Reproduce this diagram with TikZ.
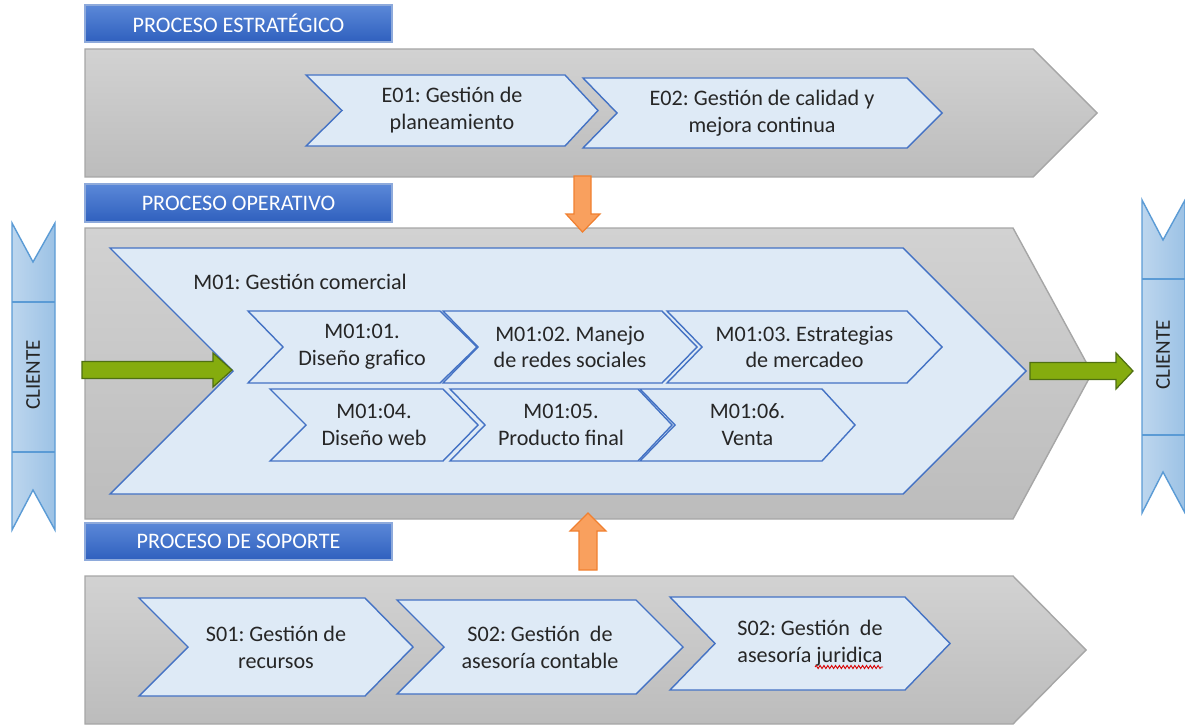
\documentclass[tikz,border=0pt]{standalone}
\usepackage{fontspec}
\setmainfont{Carlito}
\usetikzlibrary{decorations.pathmorphing}
\frenchspacing
\definecolor{txt}{HTML}{262626}
\definecolor{hdrtop}{HTML}{5B88D8}
\definecolor{hdrbot}{HTML}{2F60BE}
\definecolor{hdrline}{HTML}{8EAADB}
\definecolor{bandtop}{HTML}{D2D2D2}
\definecolor{bandbot}{HTML}{BCBCBC}
\definecolor{bandline}{HTML}{A6A6A6}
\definecolor{chfill}{HTML}{DEEAF6}
\definecolor{chline}{HTML}{4472C4}
\definecolor{clleft}{HTML}{BDD6EE}
\definecolor{clright}{HTML}{9CC2E5}
\definecolor{clline}{HTML}{5B9BD5}
\definecolor{gfill}{HTML}{85AC0E}
\definecolor{gline}{HTML}{4F6F12}
\definecolor{ofill}{HTML}{F9A05E}
\definecolor{oline}{HTML}{F08030}
\tikzset{
  band/.style={top color=bandtop, bottom color=bandbot, draw=bandline, line width=0.8pt},
  hdrbox/.style={top color=hdrtop, bottom color=hdrbot, draw=hdrline, line width=0.6pt},
  chevbox/.style={fill=chfill, draw=chline, line width=0.8pt},
  clbar/.style={left color=clleft, right color=clright, draw=clline, line width=0.8pt},
  garrow/.style={fill=gfill, draw=gline, line width=0.7pt},
  oarrow/.style={fill=ofill, draw=oline, line width=0.7pt},
  lbl/.style={text=txt, align=center, inner sep=0pt, font=\fontsize{12.6}{15.3}\selectfont},
  hdrlbl/.style={text=white, inner sep=0pt, font=\fontsize{12.6}{15}\selectfont},
  cllbl/.style={text=txt, inner sep=0pt, rotate=90, font=\fontsize{12}{14}\selectfont},
}
% #1 style, #2 left x, #3 top-right x, #4 tip x, #5 top y, #6 bottom y, #7 notch x
\newcommand{\chevshape}[7]{%
  \path[#1] (#2,#5) -- (#3,#5) -- (#4,{(#5+#6)/2}) -- (#3,#6) -- (#2,#6) -- (#7,{(#5+#6)/2}) -- cycle;}
\begin{document}
\begin{tikzpicture}[x=0.02cm,y=-0.02cm]
\useasboundingbox (0,0) rectangle (1185,726);
% ---------- bands ----------
\path[band] (85,49) -- (1033,49) -- (1097,113) -- (1033,177) -- (85,177) -- cycle;
\path[band] (85,228) -- (1013,228) -- (1092,373) -- (1013,519) -- (85,519) -- cycle;
\path[band] (85,576) -- (1013,576) -- (1086,650) -- (1013,724) -- (85,724) -- cycle;
% ---------- headers ----------
\path[hdrbox] (85,5) rectangle (392,42);
\node[hdrlbl] (h1) at (238.5,23.5) {PROCESO ESTRATÉGICO};
\path[hdrbox] (85,184) rectangle (392,222);
\node[hdrlbl] (h2) at (238.5,203) {PROCESO OPERATIVO};
\path[hdrbox] (85,523) rectangle (392,560);
\node[hdrlbl] (h3) at (238.5,541.5) {PROCESO DE SOPORTE};
% ---------- strategic ----------
\chevshape{chevbox}{306}{565}{598}{75}{146}{342}
\node[lbl] (e01) at (452,110.5) {E01: Gestión de\\planeamiento};
\chevshape{chevbox}{583}{907}{942}{78}{148}{617}
\node[lbl] (e02) at (762,113) {E02: Gestión de calidad y\\mejora continua};
% ---------- operative ----------
\chevshape{chevbox}{110}{903}{1026}{248}{494}{233}
\node[lbl, anchor=west] (m01) at (193,282) {M01: Gestión comercial};
\chevshape{chevbox}{248}{440}{477}{311}{383}{283}
\node[lbl] (m0101) at (362,347) {M01:01.\\Diseño grafico};
\chevshape{chevbox}{443}{662}{697}{311}{383}{478}
\node[lbl] (m0102) at (570,347) {M01:02. Manejo\\de redes sociales};
\chevshape{chevbox}{667}{907}{942}{311}{383}{702}
\node[lbl] (m0103) at (804.5,347) {M01:03. Estrategias\\de mercadeo};
\chevshape{chevbox}{270}{443}{478}{389}{461}{306}
\node[lbl] (m0104) at (374,425) {M01:04.\\Diseño web};
\chevshape{chevbox}{450}{638}{672}{389}{461}{485}
\node[lbl] (m0105) at (561,425) {M01:05.\\Producto final};
\chevshape{chevbox}{640}{822}{855}{389}{461}{675}
\node[lbl] (m0106) at (747.5,425) {M01:06.\\Venta};
% ---------- support ----------
\chevshape{chevbox}{139}{365}{413}{598}{696}{188}
\node[lbl] (s01) at (276,647) {S01: Gestión de\\recursos};
\chevshape{chevbox}{397}{636}{683}{600}{694}{444}
\node[lbl] (s02a) at (540,647) {S02: Gestión\ \ de\\asesoría contable};
\chevshape{chevbox}{670}{905}{950}{597}{690}{715}
\node[lbl] (s02b) at (810,643.5) {S02: Gestión\ \ de\\asesoría juridica};
\draw[red!85!black, line width=0.5pt, decorate, decoration={snake, amplitude=0.9pt, segment length=2.2pt}] (815,667) -- (883,667);
% ---------- clients ----------
\path[clbar] (12,223) -- (33,262) -- (55,223) -- (55,530) -- (33,490) -- (12,530) -- cycle;
\draw[clline, line width=0.8pt] (12,302) -- (55,302) (12,452) -- (55,452);
\node[cllbl] (cl1) at (33,375) {CLIENTE};
\path[clbar] (1142,200) -- (1163,240) -- (1185,200) -- (1185,513) -- (1163,472) -- (1142,513) -- cycle;
\draw[clline, line width=0.8pt] (1142,279) -- (1185,279) (1142,435) -- (1185,435);
\node[cllbl] (cl2) at (1163,355) {CLIENTE};
% ---------- arrows ----------
\path[garrow] (82,361.5) -- (213,361.5) -- (213,353) -- (232,370) -- (213,387) -- (213,378.5) -- (82,378.5) -- cycle;
\path[garrow] (1030,362.5) -- (1116,362.5) -- (1116,353) -- (1133,371) -- (1116,389) -- (1116,379.5) -- (1030,379.5) -- cycle;
\path[oarrow] (574,176) -- (591,176) -- (591,214) -- (600,214) -- (582.5,232) -- (566,214) -- (574,214) -- cycle;
\path[oarrow] (579,570) -- (597,570) -- (597,531) -- (606,531) -- (588,513) -- (570,531) -- (579,531) -- cycle;
\end{tikzpicture}
\end{document}
